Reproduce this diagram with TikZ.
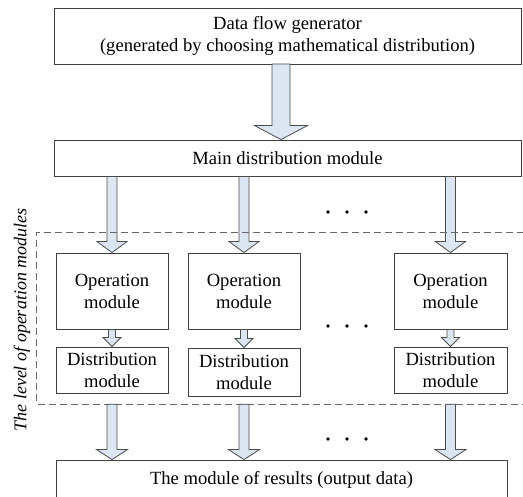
\documentclass[tikz,border=0pt]{standalone}
\usepackage{fontspec}
\setmainfont{Liberation Serif}
\usetikzlibrary{calc}

\definecolor{arrowfill}{HTML}{DCE6F2}

% block arrow: from, to, half shaft, half head, head length
\newcommand{\fatarrow}[5]{%
\draw[fatarr] let \p1=(#1), \p2=(#2) in
  (\x1-#3pt,\y1) -- (\x1-#3pt,\y2+#5pt) -- (\x1-#4pt,\y2+#5pt) -- (\x1,\y2)
  -- (\x1+#4pt,\y2+#5pt) -- (\x1+#3pt,\y2+#5pt) -- (\x1+#3pt,\y1) -- cycle;}

\begin{document}
\begin{tikzpicture}[x=1pt,y=1pt,
  font=\fontsize{18.6}{22}\selectfont,
  box/.style={draw=black!75,line width=0.9pt,fill=white,align=center,inner sep=0pt},
  fatarr/.style={draw=black!70,line width=0.8pt,fill=arrowfill},
  lvlbox/.style={draw=black!60,line width=1.2pt,dash pattern=on 7pt off 4pt}]
\clip (0,0) rectangle (523,-497);

\node[box,minimum width=467,minimum height=56] (gen) at (287.5,-36) {Data flow generator\\(generated by choosing mathematical distribution)};
\node[box,minimum width=467,minimum height=36] (main) at (287.5,-158) {Main distribution module};

\node[box,minimum width=112,minimum height=76] (op1) at (112,-291) {Operation\\module};
\node[box,minimum width=112,minimum height=76] (op2) at (244,-291) {Operation\\module};
\node[box,minimum width=113,minimum height=76] (op3) at (450.5,-291) {Operation\\module};

\node[box,minimum width=112,minimum height=46] (dist1) at (112,-370) {Distribution\\module};
\node[box,minimum width=112,minimum height=48] (dist2) at (244,-372) {Distribution\\module};
\node[box,minimum width=113,minimum height=46] (dist3) at (450.5,-370) {Distribution\\module};

\node[box,minimum width=451,minimum height=40] (res) at (281.5,-480) {The module of results (output data)};

\node[minimum width=498,minimum height=171,inner sep=0pt] (lvl) at (286,-318.5) {};
\node[rotate=90,font=\fontsize{18}{21}\selectfont\itshape] (lbl) at (22,-320) {The level of operation modules};

\coordinate (g0) at (281,-64);
\fatarrow{g0}{g0 |- main.north}{9}{26.5}{14}

\foreach \i in {1,2,3}{
  \fatarrow{main.south -| op\i.north}{op\i.north}{5}{15}{11}
  \fatarrow{op\i.south}{dist\i.north}{3.5}{9}{9}
  \fatarrow{lvl.south -| dist\i.south}{res.north -| dist\i.south}{5}{15.5}{10}
}

\draw[lvlbox] (lvl.north east) -- (lvl.north west) -- (lvl.south west) -- (lvl.south east);

% dots between the columns
\foreach \y in {212,326,439}
  \foreach \x in {328,347,366}
    \fill (\x,-\y) circle (1.8);
\end{tikzpicture}
\end{document}
